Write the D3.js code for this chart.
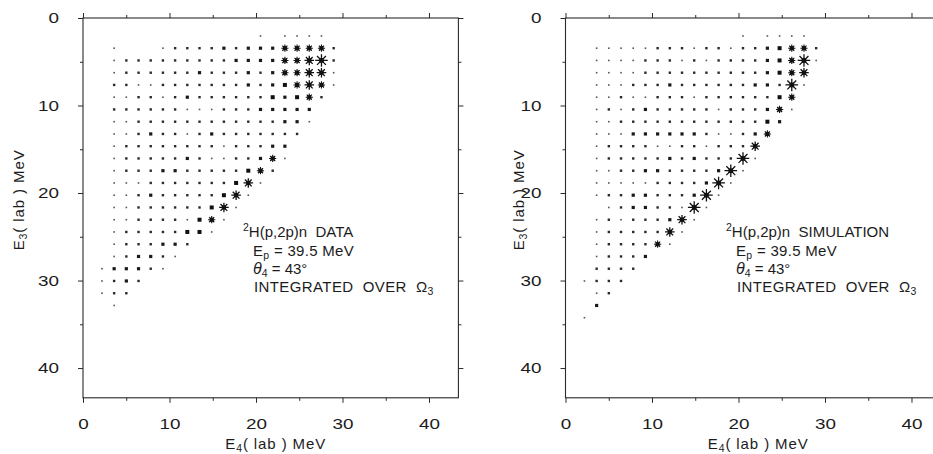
<!DOCTYPE html>
<html>
<head>
<meta charset="utf-8">
<script src="https://cdn.jsdelivr.net/npm/d3@7/dist/d3.min.js"></script>
<style>
  body { margin: 0; background: #fff; }
  svg { display: block; }
  text { font-family: "Liberation Sans", Arial, sans-serif; fill: #1c1c1c; }
</style>
</head>
<body>
<svg id="chart" width="933" height="454"></svg>
<script>
// Bin centres (MeV) of the E4 columns and E3 rows
const e4Bins = [2.19, 3.60, 5.01, 6.42, 7.83, 9.24, 10.65, 12.06, 13.47, 14.88,
                16.29, 17.70, 19.11, 20.52, 21.93, 23.34, 24.75, 26.16, 27.57, 28.98];
const e3Bins = [2.05, 3.45, 4.85, 6.25, 7.65, 9.05, 10.45, 11.85, 13.25, 14.65, 16.05, 17.45,
                18.85, 20.25, 21.65, 23.05, 24.45, 25.85, 27.25, 28.65, 30.05, 31.45, 32.85, 34.25];

const majorTicks = [0, 10, 20, 30, 40];
const minorTicks = [5, 15, 25, 35];

// Intensity class of each (E3 row, E4 column) cell, 0 = empty ... 7 = largest asterisk
const dataCounts = [
  [0,0,0,0,0,0,0,0,0,0,0,0,0,1,0,1,1,1,1,0],
  [0,1,0,0,0,1,2,2,2,2,3,2,3,3,3,5,5,5,5,2],
  [0,1,2,2,2,2,2,2,2,2,2,3,3,3,3,5,5,6,7,2],
  [0,1,2,2,2,2,2,2,3,2,2,2,3,2,3,5,5,6,6,1],
  [0,2,2,1,1,2,2,2,2,2,2,2,3,2,3,4,5,6,5,1],
  [0,1,1,2,2,1,2,3,2,2,2,2,2,2,4,3,4,5,2,0],
  [0,2,2,2,2,2,2,1,1,1,2,2,2,3,3,3,3,3,0,0],
  [0,1,1,2,2,2,2,2,2,2,2,2,2,2,2,3,3,1,0,0],
  [0,1,1,2,3,2,2,1,2,3,2,2,2,2,2,2,2,0,0,0],
  [0,1,2,2,2,2,2,2,2,2,1,2,2,2,3,3,0,0,0,0],
  [0,1,2,2,2,2,2,3,2,1,1,2,2,3,5,1,0,0,0,0],
  [0,1,2,2,2,3,3,2,2,2,2,2,4,5,2,0,0,0,0,0],
  [0,1,1,1,2,2,2,2,2,2,2,4,6,1,0,0,0,0,0,0],
  [0,1,1,2,3,2,2,2,2,2,4,6,1,0,0,0,0,0,0,0],
  [0,1,1,2,2,2,2,2,2,4,6,1,0,0,0,0,0,0,0,0],
  [0,1,1,2,2,2,2,1,4,5,1,0,0,0,0,0,0,0,0,0],
  [0,1,2,2,2,2,2,4,4,1,0,0,0,0,0,0,0,0,0,0],
  [0,1,2,2,2,3,3,2,0,0,0,0,0,0,0,0,0,0,0,0],
  [0,1,2,3,3,2,1,0,0,0,0,0,0,0,0,0,0,0,0,0],
  [1,3,3,3,2,1,0,0,0,0,0,0,0,0,0,0,0,0,0,0],
  [1,2,3,2,0,0,0,0,0,0,0,0,0,0,0,0,0,0,0,0],
  [1,2,2,0,0,0,0,0,0,0,0,0,0,0,0,0,0,0,0,0],
  [0,1,0,0,0,0,0,0,0,0,0,0,0,0,0,0,0,0,0,0],
  [0,0,0,0,0,0,0,0,0,0,0,0,0,0,0,0,0,0,0,0]
];

const simCounts = [
  [0,0,0,0,0,0,0,0,0,0,0,0,0,1,0,1,1,1,1,0],
  [0,1,1,1,1,1,2,2,2,1,2,2,1,2,2,3,4,5,5,2],
  [0,1,1,1,1,2,2,2,1,2,1,2,2,2,2,3,4,5,7,1],
  [0,1,1,1,1,2,2,2,2,2,2,2,2,2,2,3,4,5,6,0],
  [0,1,1,1,2,2,2,3,2,2,2,2,2,2,3,3,2,7,1,0],
  [0,1,1,2,1,1,2,2,2,1,2,2,2,2,2,2,4,5,0,0],
  [0,1,2,1,2,3,2,2,2,2,2,1,2,2,2,3,5,1,0,0],
  [0,1,1,2,2,2,2,2,2,2,2,2,2,2,2,4,3,0,0,0],
  [0,1,1,1,3,3,3,3,3,3,2,1,1,2,3,5,0,0,0,0],
  [0,1,2,2,2,2,1,1,2,2,1,2,2,2,6,0,0,0,0,0],
  [0,1,2,2,2,2,2,3,2,3,2,2,2,7,1,0,0,0,0,0],
  [0,1,1,2,2,3,3,2,2,2,2,3,7,1,0,0,0,0,0,0],
  [0,1,1,1,1,1,2,2,2,2,3,7,1,0,0,0,0,0,0,0],
  [0,1,2,2,3,3,2,2,2,3,7,1,0,0,0,0,0,0,0,0],
  [0,0,1,2,3,3,2,2,1,7,1,0,0,0,0,0,0,0,0,0],
  [0,1,2,1,2,2,2,3,6,1,0,0,0,0,0,0,0,0,0,0],
  [0,1,2,2,2,2,2,6,1,0,0,0,0,0,0,0,0,0,0,0],
  [0,1,2,2,2,2,5,1,0,0,0,0,0,0,0,0,0,0,0,0],
  [0,1,2,2,2,3,0,0,0,0,0,0,0,0,0,0,0,0,0,0],
  [0,2,2,2,2,0,0,0,0,0,0,0,0,0,0,0,0,0,0,0],
  [1,2,2,2,0,0,0,0,0,0,0,0,0,0,0,0,0,0,0,0],
  [0,1,2,0,0,0,0,0,0,0,0,0,0,0,0,0,0,0,0,0],
  [0,3,0,0,0,0,0,0,0,0,0,0,0,0,0,0,0,0,0,0],
  [1,0,0,0,0,0,0,0,0,0,0,0,0,0,0,0,0,0,0,0]
];

const panels = [
  { counts: dataCounts, left: 83,    textX: 253, titleX: 19,  label: "DATA" },
  { counts: simCounts,  left: 565.5, textX: 736, titleX: 519, label: "SIMULATION" }
];

const TOP = 18, PANEL_W = 375.4, PANEL_H = 379.8;
const x = d3.scaleLinear().domain([0, 43.4]).range([0, PANEL_W]);
const y = d3.scaleLinear().domain([0, 43.4]).range([0, PANEL_H]);

// marker geometry per intensity class
const levels = [1, 2, 3, 4, 5, 6, 7];
const squareSide = d3.scaleOrdinal().domain(levels).range([1.6, 2.4, 3.2, 4.0, 4.0, 4.2, 4.6]);
const armLength  = d3.scaleOrdinal().domain(levels).range([0, 0, 0, 0, 3.6, 4.8, 6.3]);
const markColor  = d3.scaleOrdinal().domain(levels).range(["#555", "#2a2a2a", "#1a1a1a", "#111", "#111", "#111", "#111"]);

function asteriskPath(r) {
  const p = d3.path(), d = r * Math.SQRT1_2;
  p.moveTo(-r, 0); p.lineTo(r, 0);
  p.moveTo(0, -r); p.lineTo(0, r);
  p.moveTo(-d, -d); p.lineTo(d, d);
  p.moveTo(-d, d); p.lineTo(d, -d);
  return p.toString();
}

const svg = d3.select("#chart");
const INK = "#2a2a2a";
const LABEL_STRETCH = 1.3;   // wide lettering of the tick numbers

function styleAxis(sel) {
  sel.select(".domain").remove();
  sel.selectAll("line").attr("stroke", INK).attr("stroke-width", 1);
  sel.selectAll("text").attr("font-size", 14.5).attr("fill", "#1c1c1c")
     .attr("font-family", '"Liberation Sans", Arial, sans-serif');
}
function stretchLabels(sel) {
  sel.selectAll("text").each(function () {
    const t = d3.select(this);
    const x0 = +t.attr("x") || 0;
    t.attr("x", x0 / LABEL_STRETCH).attr("transform", `scale(${LABEL_STRETCH},1)`);
  });
}

panels.forEach(panel => {
  const g = svg.append("g").attr("transform", `translate(${panel.left},${TOP})`);

  // frame
  g.append("rect").attr("x", 0).attr("y", 0)
    .attr("width", PANEL_W).attr("height", PANEL_H)
    .attr("fill", "none").attr("stroke", INK).attr("stroke-width", 1.1);

  // major and minor ticks on all four sides, labels on left and bottom
  const fmt = d3.format("d");
  g.append("g").attr("transform", `translate(0,${PANEL_H})`)
    .call(d3.axisBottom(x).tickValues(majorTicks).tickSize(5).tickPadding(16).tickFormat(fmt))
    .call(styleAxis).call(stretchLabels);
  g.append("g").attr("transform", `translate(0,${PANEL_H})`)
    .call(d3.axisBottom(x).tickValues(minorTicks).tickSize(3).tickFormat("")).call(styleAxis);
  g.append("g")
    .call(d3.axisTop(x).tickValues(majorTicks).tickSize(5).tickFormat("")).call(styleAxis);
  g.append("g")
    .call(d3.axisTop(x).tickValues(minorTicks).tickSize(3).tickFormat("")).call(styleAxis);
  g.append("g")
    .call(d3.axisLeft(y).tickValues(majorTicks).tickSize(5).tickPadding(19).tickFormat(fmt))
    .call(styleAxis).call(stretchLabels);
  g.append("g")
    .call(d3.axisLeft(y).tickValues(minorTicks).tickSize(3).tickFormat("")).call(styleAxis);
  g.append("g").attr("transform", `translate(${PANEL_W},0)`)
    .call(d3.axisRight(y).tickValues(majorTicks).tickSize(5).tickFormat("")).call(styleAxis);
  g.append("g").attr("transform", `translate(${PANEL_W},0)`)
    .call(d3.axisRight(y).tickValues(minorTicks).tickSize(3).tickFormat("")).call(styleAxis);

  // cells
  const cells = panel.counts.flatMap((row, j) =>
    row.map((lv, i) => ({ e4: e4Bins[i], e3: e3Bins[j], lv })).filter(d => d.lv > 0));

  g.append("g").selectAll("rect").data(cells).join("rect")
    .attr("x", d => x(d.e4) - squareSide(d.lv) / 2)
    .attr("y", d => y(d.e3) - squareSide(d.lv) / 2)
    .attr("width", d => squareSide(d.lv))
    .attr("height", d => squareSide(d.lv))
    .attr("fill", d => markColor(d.lv));

  g.append("g").selectAll("path").data(cells.filter(d => armLength(d.lv) > 0)).join("path")
    .attr("transform", d => `translate(${x(d.e4)},${y(d.e3)})`)
    .attr("d", d => asteriskPath(armLength(d.lv)))
    .attr("fill", "none").attr("stroke", "#111")
    .attr("stroke-width", d => d.lv >= 6 ? 1.3 : 1.1);

  // axis titles
  const xt = g.append("text").attr("x", PANEL_W / 2 + 5).attr("y", PANEL_H + 51)
    .attr("text-anchor", "middle").attr("font-size", 15).attr("letter-spacing", 0.9);
  xt.append("tspan").text("E");
  xt.append("tspan").attr("font-size", 10.5).attr("dy", 3).text("4");
  xt.append("tspan").attr("dy", -3).text("( lab ) MeV");

  const yt = g.append("text")
    .attr("transform", `translate(${panel.titleX - panel.left + 5},${PANEL_H / 2 - 8}) rotate(-90)`)
    .attr("text-anchor", "middle").attr("font-size", 15).attr("letter-spacing", 0.9);
  yt.append("tspan").text("E");
  yt.append("tspan").attr("font-size", 10.5).attr("dy", 3).text("3");
  yt.append("tspan").attr("dy", -3).text("( lab ) MeV");

  // reaction annotation
  const tx = panel.textX - panel.left;
  const l1 = g.append("text").attr("x", tx - 10).attr("y", 237 - TOP).attr("font-size", 15)
    .style("white-space", "pre");
  l1.append("tspan").attr("font-size", 10.5).attr("dy", -6).text("2");
  l1.append("tspan").attr("dy", 6).text("H(p,2p)n  " + panel.label);

  const l2 = g.append("text").attr("x", tx).attr("y", 256 - TOP).attr("font-size", 15)
    .attr("letter-spacing", 0.3);
  l2.append("tspan").text("E");
  l2.append("tspan").attr("font-size", 10.5).attr("dy", 3).text("p");
  l2.append("tspan").attr("dy", -3).text(" = 39.5 MeV");

  const l3 = g.append("text").attr("x", tx).attr("y", 274 - TOP).attr("font-size", 15);
  l3.append("tspan").attr("font-style", "italic").attr("font-size", 16).text("θ");
  l3.append("tspan").attr("font-size", 10.5).attr("dy", 3).text("4");
  l3.append("tspan").attr("dy", -3).text(" = 43°");

  const l4 = g.append("text").attr("x", tx + 1).attr("y", 292 - TOP).attr("font-size", 15)
    .attr("letter-spacing", 0.4).style("white-space", "pre");
  l4.append("tspan").text("INTEGRATED  OVER  Ω");
  l4.append("tspan").attr("font-size", 10.5).attr("dy", 3).text("3");
});
</script>
</body>
</html>
